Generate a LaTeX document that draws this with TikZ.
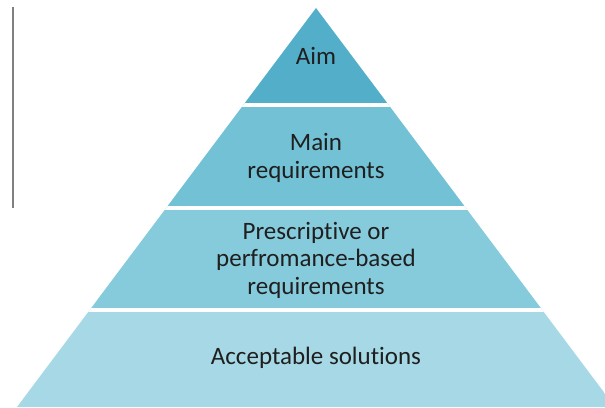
\documentclass[tikz,border=0pt]{standalone}
\usepackage{fontspec}
\setmainfont{Carlito}[Ligatures={NoCommon}]

\definecolor{aimblue}{HTML}{53AFC9}
\definecolor{mainblue}{HTML}{72C1D5}
\definecolor{prescblue}{HTML}{86CBDC}
\definecolor{accblue}{HTML}{A6D8E5}

\tikzstyle{tiertext} = [align=center, text=black!88, inner sep=0pt,
    font=\fontsize{25}{27.5}\selectfont]
\tikzstyle{gap} = [draw=white, line width=4pt]

\begin{document}
\begin{tikzpicture}[x=1pt, y=-1pt]
\useasboundingbox (0,0) rectangle (605,407);
\coordinate (apex) at (316,8);
\coordinate (left) at (17,407);
\coordinate (right) at (615,407);

% the layers
\begin{scope}
    \clip (0,0) rectangle (605,407);
    \clip (apex) -- (left) -- (right) -- cycle;
    \fill[aimblue] (0,0) rectangle (620,105);
    \fill[mainblue] (0,105) rectangle (620,208);
    \fill[prescblue] (0,208) rectangle (620,310);
    \fill[accblue] (0,310) rectangle (620,410);
    \draw[gap] (0,105) -- (620,105);
    \draw[gap] (0,208) -- (620,208);
    \draw[gap] (0,310) -- (620,310);
\end{scope}

\node[tiertext] (aim) at (316,56) {Aim};
\node[tiertext] (main) at (316,158) {Main\\requirements};
\node[tiertext] (presc) at (316,260) {Prescriptive or\\perfromance-based\\requirements};
\node[tiertext] (acc) at (316,358) {Acceptable solutions};

% margin bar
\coordinate (bartop) at (12.5,7);
\coordinate (barbot) at (12.5,208);
\draw[gray, line width=2pt] (bartop) -- (barbot);
\end{tikzpicture}
\end{document}
